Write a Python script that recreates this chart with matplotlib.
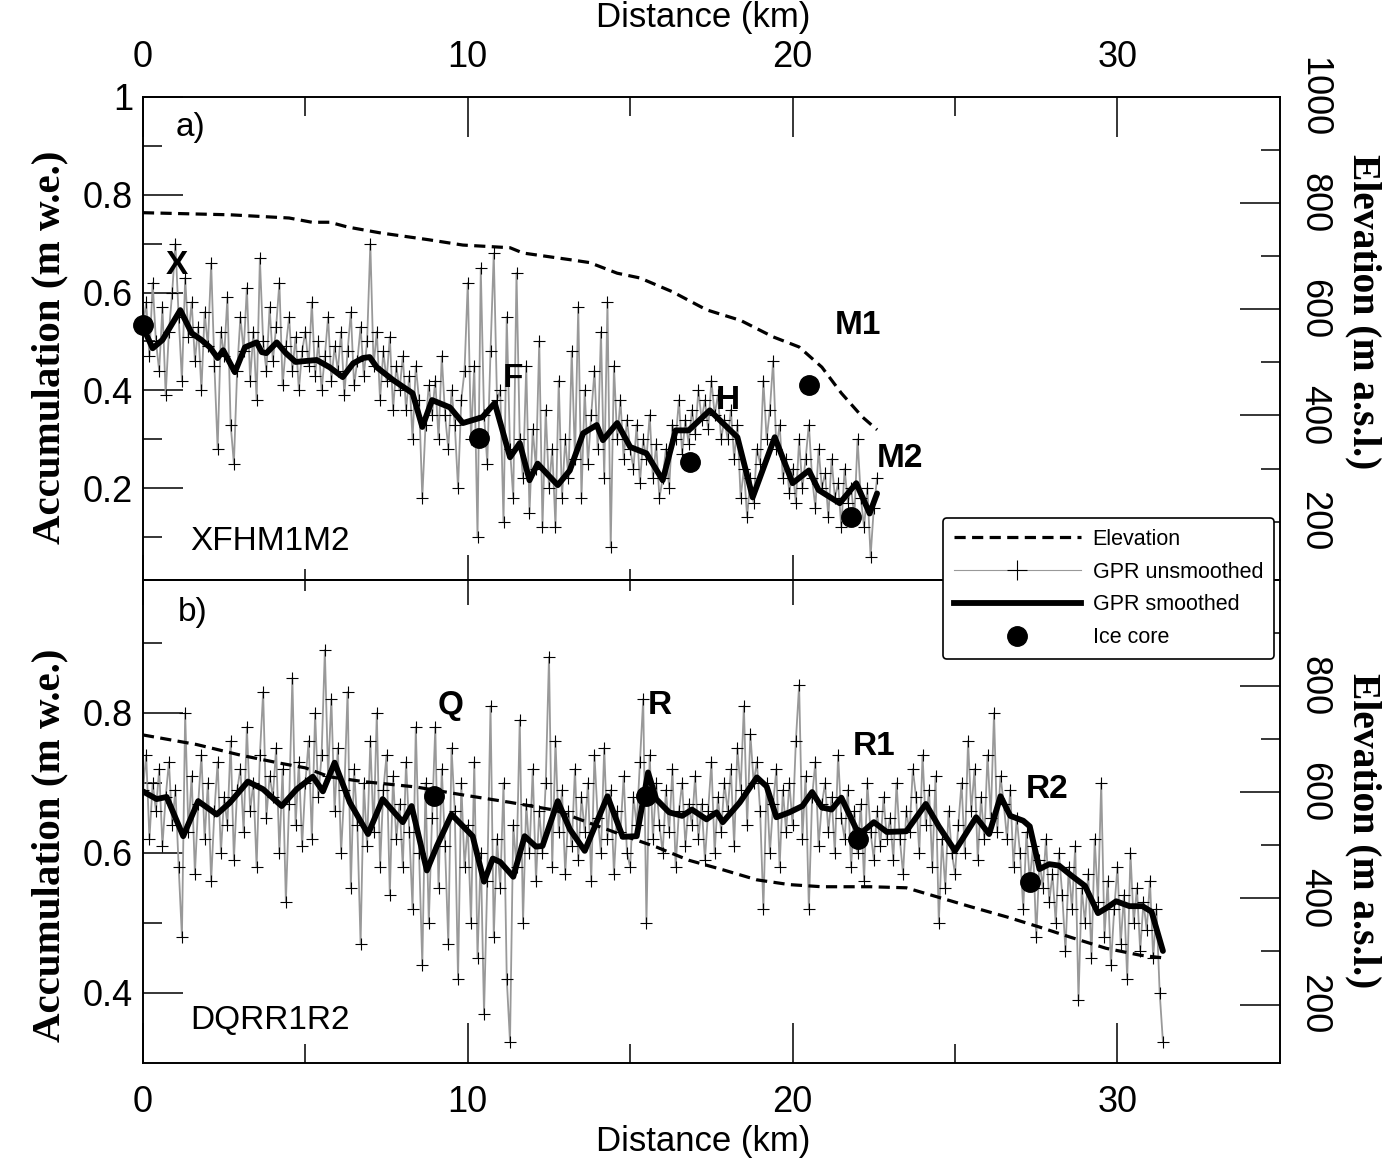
import numpy as np
import matplotlib
matplotlib.use("Agg")
import matplotlib.pyplot as plt
from matplotlib.lines import Line2D

plt.rcParams['font.family'] = ['Liberation Sans', 'DejaVu Sans']

# ---------------- data: panel a (XFHM1M2) ----------------
step = 0.1  # km between GPR samples
gpr_a = [
    0.53, 0.58, 0.47, 0.62, 0.50, 0.44, 0.57, 0.39, 0.52, 0.60,
    0.70, 0.55, 0.42, 0.63, 0.51, 0.58, 0.46, 0.53, 0.40, 0.56,
    0.49, 0.66, 0.45, 0.28, 0.52, 0.47, 0.59, 0.33, 0.25, 0.44,
    0.55, 0.48, 0.61, 0.42, 0.52, 0.38, 0.67, 0.50, 0.44, 0.57,
    0.46, 0.53, 0.62, 0.41, 0.49, 0.55, 0.44, 0.51, 0.40, 0.48,
    0.52, 0.45, 0.58, 0.43, 0.50, 0.40, 0.47, 0.55, 0.42, 0.49,
    0.44, 0.52, 0.39, 0.48, 0.56, 0.41, 0.46, 0.53, 0.43, 0.50,
    0.70, 0.45, 0.52, 0.38, 0.48, 0.42, 0.51, 0.36, 0.45, 0.40,
    0.47, 0.36, 0.43, 0.30, 0.45, 0.38, 0.18, 0.33, 0.41, 0.35,
    0.42, 0.30, 0.47, 0.35, 0.28, 0.40, 0.33, 0.20, 0.38, 0.44,
    0.62, 0.30, 0.45, 0.10, 0.65, 0.35, 0.25, 0.48, 0.68, 0.38,
    0.40, 0.13, 0.55, 0.28, 0.18, 0.64, 0.30, 0.22, 0.45, 0.15,
    0.32, 0.24, 0.50, 0.12, 0.36, 0.20, 0.28, 0.12, 0.42, 0.18,
    0.30, 0.22, 0.48, 0.26, 0.57, 0.18, 0.40, 0.25, 0.35, 0.44,
    0.28, 0.52, 0.22, 0.58, 0.08, 0.45, 0.30, 0.38, 0.26, 0.34,
    0.28, 0.24, 0.33, 0.21, 0.30, 0.26, 0.35, 0.22, 0.29, 0.18,
    0.22, 0.28, 0.20, 0.33, 0.30, 0.38, 0.27, 0.34, 0.29, 0.36,
    0.31, 0.40, 0.34, 0.38, 0.32, 0.42, 0.35, 0.39, 0.30, 0.34,
    0.30, 0.36, 0.26, 0.33, 0.18, 0.24, 0.14, 0.22, 0.17, 0.28,
    0.25, 0.42, 0.30, 0.36, 0.46, 0.28, 0.33, 0.22, 0.26, 0.19,
    0.24, 0.17, 0.30, 0.20, 0.26, 0.33, 0.22, 0.16, 0.28, 0.20,
    0.23, 0.14, 0.26, 0.18, 0.21, 0.12, 0.24, 0.17, 0.20, 0.14,
    0.30, 0.18, 0.12, 0.20, 0.06, 0.16, 0.22,
]

smooth_a_km = [0, 0.3, 0.6, 1.15, 1.5, 1.8, 2.06, 2.3, 2.47, 2.83, 3.14, 3.5, 3.66,
               3.8, 4.12, 4.4, 4.7, 5.35, 5.75, 6.15, 6.47, 6.77, 6.98, 7.2, 7.7,
               8.3, 8.6, 8.9, 9.45, 9.85, 10.45, 10.83, 11.3, 11.6, 11.9, 12.15,
               12.4, 12.77, 13.14, 13.55, 13.97, 14.16, 14.6, 15.0, 15.5, 16.0,
               16.4, 16.8, 17.45, 17.85, 18.3, 18.77, 19.45, 20.0, 20.5, 20.8,
               21.45, 21.96, 22.37, 22.6]
smooth_a = [0.529, 0.486, 0.503, 0.564, 0.517, 0.503, 0.488, 0.466, 0.482, 0.437,
            0.488, 0.498, 0.478, 0.476, 0.498, 0.476, 0.458, 0.462, 0.447, 0.427,
            0.455, 0.466, 0.468, 0.447, 0.421, 0.394, 0.325, 0.38, 0.365, 0.333,
            0.345, 0.374, 0.263, 0.292, 0.216, 0.25, 0.232, 0.206, 0.236, 0.312,
            0.329, 0.298, 0.333, 0.284, 0.271, 0.216, 0.318, 0.318, 0.359, 0.333,
            0.304, 0.181, 0.304, 0.21, 0.236, 0.196, 0.169, 0.21, 0.148, 0.189]

elev_a_km = [0, 2.7, 4.5, 5.2, 5.75, 6.3, 7.3, 8.8, 9.85, 11.3, 11.7, 13.2, 13.75,
             14.6, 15.3, 16.3, 17.35, 18.4, 19.4, 20.2, 20.9, 21.5, 22.15, 22.6]
elev_a = [782, 778, 772, 764, 764, 755, 744, 731, 721, 716, 706, 693, 688,
          668, 659, 633, 599, 579, 548, 529, 491, 442, 397, 373]

core_a_km = [0.0, 10.35, 16.85, 20.5, 21.8]
core_a = [0.533, 0.302, 0.253, 0.41, 0.14]

# ---------------- data: panel b (DQRR1R2) ----------------
gpr_b = [
    0.69, 0.74, 0.62, 0.70, 0.66, 0.72, 0.61, 0.68, 0.73, 0.64,
    0.69, 0.58, 0.48, 0.80, 0.63, 0.71, 0.57, 0.67, 0.74, 0.62,
    0.70, 0.56, 0.66, 0.73, 0.60, 0.68, 0.64, 0.76, 0.59, 0.69,
    0.72, 0.63, 0.78, 0.66, 0.70, 0.58, 0.74, 0.83, 0.65, 0.71,
    0.68, 0.75, 0.60, 0.72, 0.53, 0.67, 0.85, 0.64, 0.73, 0.61,
    0.70, 0.76, 0.62, 0.80, 0.68, 0.74, 0.89, 0.71, 0.82, 0.66,
    0.75, 0.60, 0.69, 0.83, 0.55, 0.72, 0.64, 0.47, 0.70, 0.61,
    0.76, 0.63, 0.80, 0.58, 0.69, 0.74, 0.54, 0.71, 0.62, 0.67,
    0.58, 0.73, 0.63, 0.52, 0.78, 0.60, 0.44, 0.70, 0.50, 0.65,
    0.78, 0.55, 0.72, 0.61, 0.47, 0.75, 0.66, 0.42, 0.70, 0.58,
    0.64, 0.50, 0.73, 0.45, 0.60, 0.37, 0.56, 0.81, 0.48, 0.62,
    0.55, 0.70, 0.42, 0.33, 0.64, 0.58, 0.79, 0.50, 0.67, 0.60,
    0.72, 0.56, 0.66, 0.60, 0.70, 0.88, 0.58, 0.76, 0.63, 0.69,
    0.57, 0.66, 0.61, 0.72, 0.59, 0.68, 0.63, 0.70, 0.56, 0.74,
    0.65, 0.60, 0.75, 0.62, 0.69, 0.57, 0.66, 0.63, 0.71, 0.60,
    0.58, 0.68, 0.64, 0.73, 0.82, 0.50, 0.74, 0.62, 0.70, 0.64,
    0.60, 0.69, 0.63, 0.72, 0.58, 0.66, 0.70, 0.61, 0.67, 0.64,
    0.71, 0.62, 0.67, 0.59, 0.66, 0.73, 0.60, 0.68, 0.63, 0.70,
    0.66, 0.72, 0.61, 0.75, 0.69, 0.81, 0.64, 0.77, 0.70, 0.73,
    0.66, 0.52, 0.70, 0.60, 0.67, 0.72, 0.58, 0.69, 0.63, 0.70,
    0.64, 0.76, 0.84, 0.62, 0.71, 0.52, 0.68, 0.73, 0.61, 0.67,
    0.70, 0.63, 0.68, 0.60, 0.74, 0.65, 0.62, 0.69, 0.58, 0.66,
    0.60, 0.67, 0.56, 0.70, 0.63, 0.59, 0.66, 0.61, 0.68, 0.62,
    0.65, 0.59, 0.70, 0.62, 0.57, 0.66, 0.63, 0.72, 0.68, 0.60,
    0.74, 0.64, 0.69, 0.58, 0.71, 0.50, 0.62, 0.55, 0.66, 0.60,
    0.57, 0.64, 0.70, 0.60, 0.76, 0.66, 0.72, 0.59, 0.68, 0.62,
    0.74, 0.65, 0.80, 0.63, 0.71, 0.67, 0.62, 0.69, 0.58, 0.65,
    0.60, 0.52, 0.63, 0.56, 0.61, 0.48, 0.59, 0.55, 0.62, 0.53,
    0.57, 0.50, 0.60, 0.54, 0.46, 0.58, 0.52, 0.61, 0.39, 0.55,
    0.50, 0.57, 0.45, 0.62, 0.53, 0.70, 0.48, 0.56, 0.44, 0.52,
    0.58, 0.47, 0.54, 0.42, 0.60, 0.50, 0.55, 0.46, 0.53, 0.49,
    0.56, 0.45, 0.52, 0.40, 0.33,
]

smooth_b_km = [0, 0.42, 0.73, 1.24, 1.7, 2.27, 2.68, 3.23, 3.7, 4.27, 4.73, 5.23,
               5.54, 5.9, 6.37, 6.93, 7.38, 8.0, 8.27, 8.74, 9.05, 9.5, 10.15, 10.5,
               10.77, 11.0, 11.4, 11.75, 12.1, 12.3, 12.77, 13.14, 13.6, 14.3,
               14.77, 15.2, 15.55, 15.8, 16.2, 16.6, 16.9, 17.35, 17.66, 17.85,
               18.37, 18.9, 19.2, 19.5, 19.9, 20.3, 20.6, 20.9, 21.2, 21.5, 21.96,
               22.15, 22.5, 22.9, 23.5, 24.1, 24.5, 25.0, 25.65, 26.05, 26.4, 26.7,
               27.1, 27.3, 27.6, 27.9, 28.2, 28.6, 29.0, 29.4, 29.65, 29.96, 30.37,
               30.77, 31.05, 31.4]
smooth_b = [0.688, 0.677, 0.68, 0.624, 0.674, 0.655, 0.672, 0.702, 0.691, 0.667,
            0.691, 0.709, 0.688, 0.729, 0.672, 0.627, 0.677, 0.644, 0.667, 0.575,
            0.61, 0.655, 0.624, 0.559, 0.592, 0.587, 0.566, 0.624, 0.609, 0.61,
            0.674, 0.634, 0.603, 0.681, 0.623, 0.624, 0.715, 0.677, 0.658, 0.653,
            0.662, 0.648, 0.658, 0.644, 0.672, 0.708, 0.695, 0.651, 0.658, 0.667,
            0.687, 0.665, 0.662, 0.679, 0.634, 0.63, 0.644, 0.63, 0.631, 0.67,
            0.638, 0.603, 0.651, 0.627, 0.681, 0.653, 0.646, 0.638, 0.577, 0.584,
            0.582, 0.567, 0.553, 0.514, 0.521, 0.531, 0.524, 0.524, 0.516, 0.46]

elev_b_km = [0, 1.65, 3.0, 4.2, 5.0, 5.75, 6.8, 8.4, 9.85, 11.3, 12.7, 13.75, 15.0,
             15.8, 16.8, 17.85, 18.9, 19.9, 20.9, 22.4, 23.5, 24.5, 25.5, 26.6,
             27.6, 28.6, 29.65, 30.7, 31.4]
elev_b = [708, 690, 670, 655, 646, 629, 620, 610, 595, 581, 566, 542, 514,
          497, 472, 454, 435, 426, 422, 422, 420, 402, 384, 365, 346, 326, 306,
          293, 288]

core_b_km = [8.95, 15.5, 22.0, 27.3]
core_b = [0.681, 0.681, 0.62, 0.559]

x_a = np.arange(len(gpr_a)) * step
x_b = np.arange(len(gpr_b)) * step

# ---------------- figure ----------------
fig = plt.figure(figsize=(14, 11.7), dpi=100)
ax_a = fig.add_axes([0.1021, 0.5043, 0.8121, 0.4128])
ax_b = fig.add_axes([0.1021, 0.0915, 0.8121, 0.4128])
ax_a2 = ax_a.twinx()
ax_b2 = ax_b.twinx()

serif = ['Liberation Serif', 'DejaVu Serif']
tick_fs = 26
gray = '0.6'


def draw_panel(ax, ax2, x, gpr, s_km, s_val, e_km, e_val, c_km, c_val):
    ax.plot(x, gpr, color=gray, lw=1.3, marker='+', ms=8, mec='k', mew=0.8, zorder=2)
    ax.plot(s_km, s_val, color='k', lw=4.2, solid_capstyle='round',
            solid_joinstyle='round', zorder=3)
    ax.plot(c_km, c_val, 'o', color='k', ms=14, ls='none', zorder=4, clip_on=False)
    ax2.plot(e_km, e_val, color='k', lw=2.3, ls=(0, (3.5, 2.0)))
    ax.set_xlim(0, 35)
    ax2.set_ylim(90, 1000)
    for a in (ax, ax2):
        for sp in a.spines.values():
            sp.set_linewidth(1.2)
    # inward ticks everywhere
    ax.tick_params(axis='y', which='major', direction='in', length=29, width=1.1,
                   labelsize=tick_fs, pad=7, left=True, right=False)
    ax.tick_params(axis='y', which='minor', direction='in', length=14, width=1.1,
                   left=True, right=False)
    ax2.tick_params(axis='y', which='major', direction='in', length=29, width=1.1,
                    labelsize=tick_fs, pad=12, labelrotation=-90)
    ax2.tick_params(axis='y', which='minor', direction='in', length=14, width=1.1)
    ax.set_xticks([0, 10, 20, 30])
    ax.set_xticks([5, 15, 25], minor=True)


draw_panel(ax_a, ax_a2, x_a, gpr_a, smooth_a_km, smooth_a, elev_a_km, elev_a,
           core_a_km, core_a)
draw_panel(ax_b, ax_b2, x_b, gpr_b, smooth_b_km, smooth_b, elev_b_km, elev_b,
           core_b_km, core_b)

# panel a: y axes
ax_a.set_ylim(0.012, 1.0)
ax_a.set_yticks([0.2, 0.4, 0.6, 0.8, 1.0], ['0.2', '0.4', '0.6', '0.8', '1'])
ax_a.set_yticks([0.1, 0.3, 0.5, 0.7, 0.9], minor=True)
ax_a2.set_yticks([200, 400, 600, 800, 1000], ['200', '400', '600', '800', '1000'])
ax_a2.set_yticks([300, 500, 700, 900], minor=True)

# panel b: y axes
ax_b.set_ylim(0.3, 0.99)
ax_b.set_yticks([0.4, 0.6, 0.8], ['0.4', '0.6', '0.8'])
ax_b.set_yticks([0.5, 0.7, 0.9], minor=True)
ax_b2.set_yticks([200, 400, 600, 800], ['200', '400', '600', '800'])
ax_b2.set_yticks([300, 500, 700, 900], minor=True)

for a2 in (ax_a2, ax_b2):
    for lab in a2.get_yticklabels():
        lab.set_va('center')
        lab.set_ha('left')

# x axes: top of a labelled, bottom of b labelled, shared edge short ticks
ax_a.tick_params(axis='x', which='major', direction='in', length=29, width=1.1,
                 top=True, bottom=False, labeltop=True, labelbottom=False,
                 labelsize=tick_fs, pad=16)
ax_a.tick_params(axis='x', which='minor', direction='in', length=14, width=1.1,
                 top=True, bottom=False)
ax_b.tick_params(axis='x', which='major', direction='in', length=29, width=1.1,
                 top=False, bottom=True, labelsize=tick_fs, pad=16)
ax_b.tick_params(axis='x', which='minor', direction='in', length=14, width=1.1,
                 top=False, bottom=True)
for a2, side in ((ax_a2, 'bottom'), (ax_b2, 'top')):
    a2.xaxis.set_visible(True)
    a2.set_xticks([0, 10, 20, 30])
    a2.set_xticks([5, 15, 25], minor=True)
    a2.tick_params(axis='x', which='major', direction='in', length=18, width=1.1,
                   top=(side == 'top'), bottom=(side == 'bottom'),
                   labeltop=False, labelbottom=False)
    a2.tick_params(axis='x', which='minor', direction='in', length=8, width=1.1,
                   top=(side == 'top'), bottom=(side == 'bottom'))

# ---------------- annotations ----------------
ax_a.text(1.0, 0.937, 'a)', fontsize=24, va='center', ha='left')
ax_a.text(1.45, 0.091, 'XFHM1M2', fontsize=24, va='center', ha='left')
for lab, xk, yv in [('X', 1.05, 0.656), ('F', 11.38, 0.425), ('H', 18.0, 0.38),
                    ('M1', 22.0, 0.533), ('M2', 23.3, 0.261)]:
    ax_a.text(xk, yv, lab, fontsize=24, fontweight='bold', ha='center', va='center',
              zorder=5)

ax_b.text(1.08, 0.943, 'b)', fontsize=24, va='center', ha='left')
ax_b.text(1.45, 0.36, 'DQRR1R2', fontsize=24, va='center', ha='left')
for lab, xk, yv in [('Q', 9.48, 0.811), ('R', 15.9, 0.81), ('R1', 22.5, 0.752),
                    ('R2', 27.85, 0.691)]:
    ax_b.text(xk, yv, lab, fontsize=24, fontweight='bold', ha='center', va='center',
              zorder=5)

# axis titles
fig.text(703 / 1400, 1 - 17 / 1170, 'Distance (km)', fontsize=25, ha='center', va='center')
fig.text(703 / 1400, 1 - 1142 / 1170, 'Distance (km)', fontsize=25, ha='center', va='center')
fig.text(50 / 1400, 1 - 347 / 1170, 'Accumulation (m w.e.)', fontsize=29.5, rotation=90,
         family=serif, fontweight='bold', ha='center', va='center')
fig.text(50 / 1400, 1 - 845 / 1170, 'Accumulation (m w.e.)', fontsize=29.5, rotation=90,
         family=serif, fontweight='bold', ha='center', va='center')
fig.text(1363 / 1400, 1 - 312 / 1170, 'Elevation (m a.s.l.)', fontsize=28.5, rotation=-90,
         family=serif, fontweight='bold', ha='center', va='center')
fig.text(1363 / 1400, 1 - 831 / 1170, 'Elevation (m a.s.l.)', fontsize=28.5, rotation=-90,
         family=serif, fontweight='bold', ha='center', va='center')

# ---------------- legend ----------------
handles = [
    Line2D([], [], color='k', lw=2.3, ls=(0, (3.5, 2.0))),
    Line2D([], [], color=gray, lw=0.8, marker='+', ms=14, mec='k', mew=0.8),
    Line2D([], [], color='k', lw=4.2),
    Line2D([], [], color='k', marker='o', ms=14, ls='none'),
]
labels = ['Elevation', 'GPR unsmoothed', 'GPR smoothed', 'Ice core']
leg = fig.legend(handles, labels, loc='upper left',
                 bbox_to_anchor=(943 / 1400, 1 - 518 / 1170), fontsize=15.5,
                 handlelength=5.9, handletextpad=0.55, labelspacing=0.55,
                 borderpad=0.5, borderaxespad=0, numpoints=1, fancybox=True,
                 framealpha=1, edgecolor='k')
leg.get_frame().set_linewidth(1.2)
leg.set_zorder(10)

fig.savefig('out.png', dpi=100)
